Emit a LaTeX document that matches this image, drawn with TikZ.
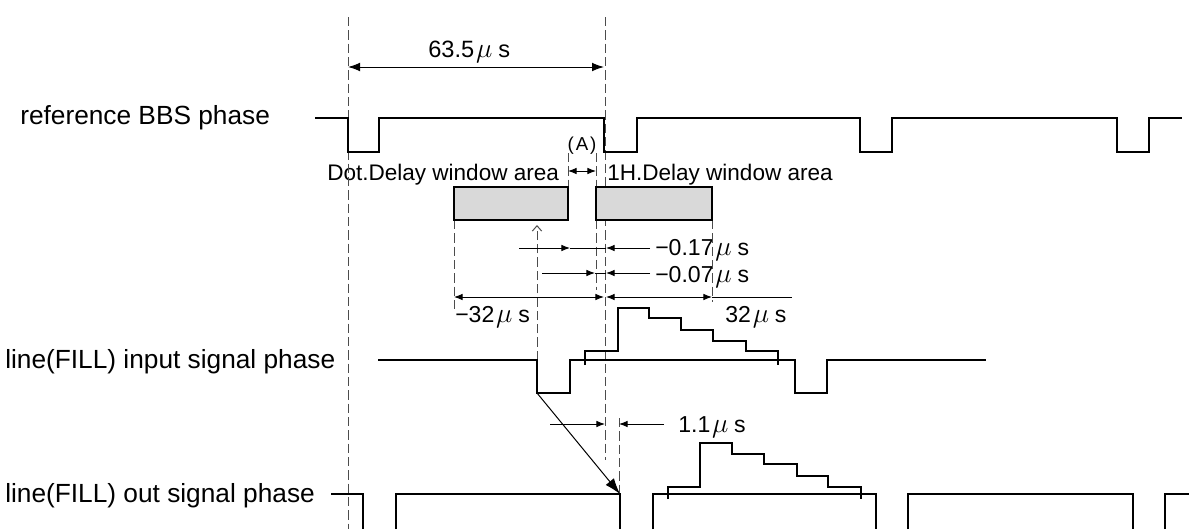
\documentclass[tikz,border=0pt]{standalone}
\usepackage{fontspec}
\setmainfont{Liberation Sans}
\usetikzlibrary{arrows.meta}
\newcommand{\umu}{\hspace{0.08em}\scalebox{1.2}{$\mu$}\hspace{0.25em}s}
\begin{document}
\begin{tikzpicture}[x=0.75pt,y=-0.75pt,
  sig/.style={line width=1.5pt,line join=miter,line cap=butt},
  dim/.style={line width=0.75pt},
  dsh/.style={line width=0.75pt,draw=black!70,dash pattern=on 7pt off 3pt},
  tipAA/.style={{Latex[length=9pt,width=6.5pt]}-{Latex[length=9pt,width=6.5pt]}},
  tipS/.style={-{Latex[length=6.5pt,width=5pt]}},
  tipSS/.style={{Latex[length=6.5pt,width=5pt]}-{Latex[length=6.5pt,width=5pt]}},
  winbox/.style={draw,line width=1.3pt,fill=black!15},
  lab/.style={inner sep=0pt,anchor=base west,font=\fontsize{19.7pt}{22pt}\selectfont},
  wlab/.style={inner sep=0pt,anchor=base west,font=\fontsize{16.9pt}{19pt}\selectfont},
  nlab/.style={inner sep=0pt,anchor=base west,font=\fontsize{17.3pt}{19pt}\selectfont}
]
\useasboundingbox (0,0) rectangle (1189,529);

% coordinates
\coordinate (L0) at (348,17);  \coordinate (L1) at (348,529);
\coordinate (C0) at (605,17);  \coordinate (C1) at (605,460);
\coordinate (Ta) at (348,67);  \coordinate (Tb) at (604,67);

% labels
\node[lab] (refl) at (20,124) {reference BBS phase};
\node[lab] (inl) at (5,368) {line(FILL) input signal phase};
\node[lab] (outl) at (5,502) {line(FILL) out signal phase};
\node[nlab,font=\fontsize{17.7pt}{19pt}\selectfont] (t635) at (428,57) {63.5\umu};
\node[wlab] (dotl) at (327,180) {Dot.Delay window area};
\node[wlab] (hl) at (607,180) {1H.Delay window area};
\node[inner sep=0pt,anchor=base,font=\fontsize{14pt}{16pt}\selectfont] (Al) at (582,150) {(\hspace{0.1em}A\hspace{0.1em})};
\node[nlab] (t017) at (655,255) {−0.17\umu};
\node[nlab] (t007) at (655,282) {−0.07\umu};
\node[nlab] (tm32) at (455,322) {−32\umu};
\node[nlab] (tp32) at (725,322) {32\umu};
\node[nlab] (t11) at (678,432) {1.1\umu};

% dashed guides
\draw[dsh] (L0) -- (L1);
\draw[dsh] (C0) -- (C1);
\draw[dsh] (568,153) -- (568,187);
\draw[dsh] (596,153) -- (596,187);
\draw[dsh] (596,220) -- (596,290);
\draw[dsh] (454,220) -- (454,312);
\draw[dsh] (712,220) -- (712,302);
\draw[dsh] (619,418) -- (619,494);
\coordinate (up0) at (537,360); \coordinate (up1) at (537,225);
\draw[dsh,-{Straight Barb[length=4pt,width=7pt]}] (up0) -- (up1);

% windows
\draw[winbox] (454,187) rectangle (568,220);
\draw[winbox] (596,187) rectangle (712,220);

% 63.5 us
\draw[dim,tipAA] (Ta) -- (Tb);
% (A)
\draw[dim,tipSS] (568,171) -- (596,171);

% -0.17
\draw[dim,tipS] (519,248) -- (570,248);
\draw[dim] (570,248) -- (606,248);
\draw[dim,tipS] (650,248) -- (606,248);
% -0.07
\draw[dim,tipS] (542,273) -- (595,273);
\draw[dim] (595,273) -- (606,273);
\draw[dim,tipS] (650,273) -- (606,273);
% +-32
\draw[dim,tipSS] (454,297) -- (604,297);
\draw[dim,tipSS] (606,297) -- (712,297);
\draw[dim] (712,297) -- (792,297);
% 1.1
\draw[dim,tipS] (550,424) -- (605,424);
\draw[dim,tipS] (664,424) -- (619,424);

% BBS
\draw[sig] (315,118) -- (348,118) -- (348,152) -- (379,152) -- (379,118) -- (604,118) -- (604,152) -- (637,152) -- (637,118)
  -- (860,118) -- (860,152) -- (892,152) -- (892,118) -- (1117,118) -- (1117,152) -- (1149,152) -- (1149,118) -- (1182,118);

% input
\draw[sig] (378,360) -- (537,360) -- (537,393) -- (570,393) -- (570,360) -- (795,360) -- (795,393) -- (827,393) -- (827,360) -- (986,360);
\draw[sig] (585,365) -- (585,351) -- (618,351) -- (618,308) -- (649,308) -- (649,318) -- (681,318) -- (681,330) -- (713,330)
  -- (713,341) -- (746,341) -- (746,351) -- (778,351) -- (778,365);

% output
\draw[sig] (331,494) -- (363,494) -- (363,529);
\draw[sig] (396,529) -- (396,494) -- (620,494) -- (620,529);
\draw[sig] (653,529) -- (653,494) -- (876,494) -- (876,529);
\draw[sig] (908,529) -- (908,494) -- (1133,494) -- (1133,529);
\draw[sig] (1165,529) -- (1165,494) -- (1189,494);
\draw[sig] (668,499) -- (668,487) -- (700,487) -- (700,443) -- (732,443) -- (732,454) -- (764,454) -- (764,464) -- (797,464)
  -- (797,476) -- (828,476) -- (828,487) -- (861,487) -- (861,499);

% diagonal
\coordinate (dg0) at (537,393); \coordinate (dg1) at (620,494);
\draw[dim,-{Latex[length=12pt,width=8pt]}] (dg0) -- (dg1);
\end{tikzpicture}
\end{document}
